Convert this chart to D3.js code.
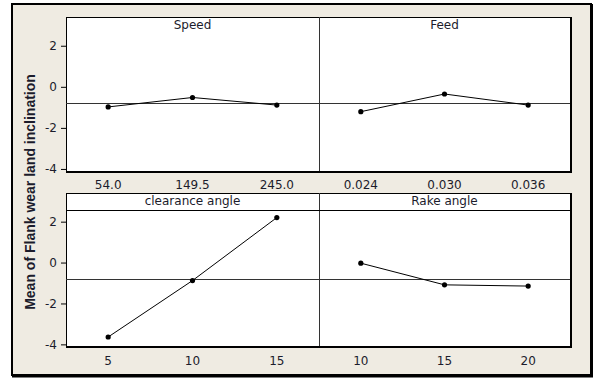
<!DOCTYPE html>
<html>
<head>
<meta charset="utf-8">
<script src="https://cdn.jsdelivr.net/npm/d3@7"></script>
<style>
  body { margin: 0; background: #fff; }
  text { font-family: "DejaVu Sans", sans-serif; fill: #1c1c2c; }
</style>
</head>
<body>
<svg id="chart" width="593" height="378"></svg>
<script>
// Main effects plot — mean of flank wear land inclination
const factors = ["Speed", "Feed", "clearance angle", "Rake angle"];
const speedLevels = ["54.0", "149.5", "245.0"];
const feedLevels = ["0.024", "0.030", "0.036"];
const clearanceLevels = ["5", "10", "15"];
const rakeLevels = ["10", "15", "20"];
const speedMeans = [-0.98, -0.52, -0.89];
const feedMeans = [-1.21, -0.35, -0.89];
const clearanceMeans = [-3.64, -0.88, 2.20];
const rakeMeans = [-0.03, -1.09, -1.15];
const grandMean = -0.80;
const yTicks = [2, 0, -2, -4];

const levels = [speedLevels, feedLevels, clearanceLevels, rakeLevels];
const means = [speedMeans, feedMeans, clearanceMeans, rakeMeans];

const svg = d3.select("#chart");

// cadre extérieur
svg.append("rect").attr("x", 12).attr("y", 4).attr("width", 579).attr("height", 371)
  .attr("fill", "#efebe2").attr("stroke", "#000").attr("stroke-width", 2);
svg.append("line").attr("x1", 591.5).attr("x2", 591.5).attr("y1", 4).attr("y2", 377)
  .attr("stroke", "#000").attr("stroke-width", 3);
svg.append("line").attr("x1", 12).attr("x2", 593).attr("y1", 376).attr("y2", 376)
  .attr("stroke", "#000").attr("stroke-width", 3);

const cols = [[66, 319], [319, 570]];
const rows = [
  { top: 17, dataTop: 17, bottom: 171, strip: false, domain: [-4.1, 3.4], labelY: 189 },
  { top: 193, dataTop: 210, bottom: 346, strip: true, domain: [-4.08, 2.57], labelY: 365 }
];

rows.forEach((r, ri) => {
  const y = d3.scaleLinear().domain(r.domain).range([r.bottom, r.dataTop]);

  // fond du panneau
  svg.append("rect").attr("x", cols[0][0]).attr("y", r.top)
    .attr("width", cols[1][1] - cols[0][0]).attr("height", r.bottom - r.top)
    .attr("fill", "#fff").attr("stroke", "#000").attr("stroke-width", 1)
    .attr("shape-rendering", "crispEdges");
  // ombre droite / bas
  svg.append("line").attr("x1", cols[1][1] + 1).attr("x2", cols[1][1] + 1)
    .attr("y1", r.top).attr("y2", r.bottom + 1.5)
    .attr("stroke", "#000").attr("stroke-width", 2);
  svg.append("line").attr("x1", cols[0][0]).attr("x2", cols[1][1] + 2)
    .attr("y1", r.bottom + 1).attr("y2", r.bottom + 1)
    .attr("stroke", "#000").attr("stroke-width", 2);
  // séparateur vertical
  svg.append("line").attr("x1", cols[1][0] + 0.5).attr("x2", cols[1][0] + 0.5)
    .attr("y1", r.top).attr("y2", r.bottom)
    .attr("stroke", "#333").attr("stroke-width", 1);
  if (r.strip) {
    svg.append("line").attr("x1", cols[0][0]).attr("x2", cols[1][1])
      .attr("y1", r.dataTop + 0.5).attr("y2", r.dataTop + 0.5)
      .attr("stroke", "#000").attr("stroke-width", 1);
  }

  // axe Y
  const yAxis = svg.append("g")
    .attr("transform", `translate(${cols[0][0]},0)`)
    .call(d3.axisLeft(y).tickValues(yTicks).tickSize(5).tickPadding(4).tickFormat(d => String(d)));
  yAxis.select(".domain").remove();
  yAxis.selectAll("text").style("font-size", "12px").attr("fill", "#1c1c2c")
    .style("font-family", "DejaVu Sans, sans-serif");

  cols.forEach((c, ci) => {
    const k = ri * 2 + ci;
    const x = d3.scalePoint().domain(levels[k]).range(c).padding(0.5);

    // ligne de moyenne générale
    svg.append("line").attr("x1", c[0]).attr("x2", c[1])
      .attr("y1", Math.round(y(grandMean)) + 0.5).attr("y2", Math.round(y(grandMean)) + 0.5)
      .attr("stroke", "#333").attr("stroke-width", 1);

    // titre du facteur
    svg.append("text")
      .attr("x", (c[0] + c[1]) / 2)
      .attr("y", r.top + 12)
      .attr("text-anchor", "middle")
      .style("font-size", "12px")
      .text(factors[k]);

    const pts = levels[k].map((l, i) => ({ l, v: means[k][i] }));
    svg.append("path").datum(pts)
      .attr("d", d3.line().x(d => x(d.l)).y(d => y(d.v)))
      .attr("fill", "none").attr("stroke", "#000").attr("stroke-width", 1);
    svg.selectAll(null).data(pts).enter().append("circle")
      .attr("cx", d => x(d.l)).attr("cy", d => y(d.v)).attr("r", 2.6)
      .attr("fill", "#000");

    // étiquettes X
    svg.selectAll(null).data(levels[k]).enter().append("text")
      .attr("x", d => x(d))
      .attr("y", r.labelY)
      .attr("text-anchor", "middle")
      .style("font-size", "12px")
      .text(d => d);
  });
});

// titre de l'axe Y
svg.append("text")
  .attr("transform", "translate(35,192) rotate(-90)")
  .attr("text-anchor", "middle")
  .style("font-family", "Liberation Sans, Arial, sans-serif")
  .style("font-size", "14px")
  .style("font-weight", "bold")
  .attr("fill", "#000")
  .text("Mean of Flank wear land inclination");
</script>
</body>
</html>
